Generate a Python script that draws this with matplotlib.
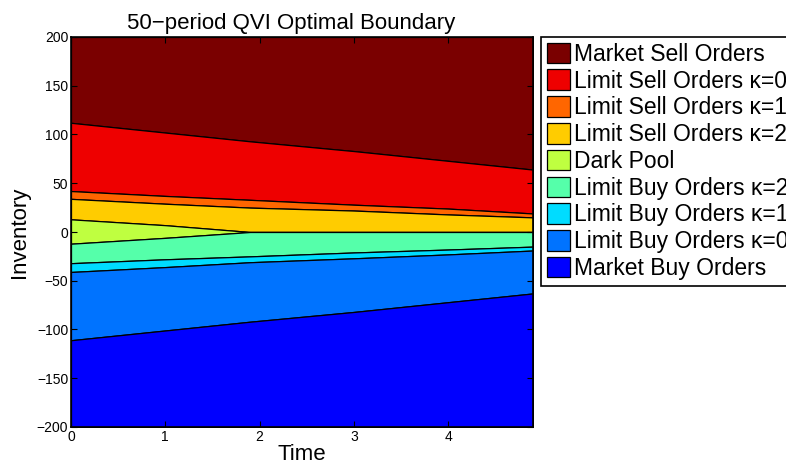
import matplotlib
matplotlib.use("Agg")
import matplotlib.pyplot as plt
import numpy as np

plt.rcParams['font.family'] = ['Liberation Sans', 'DejaVu Sans']

t = [0, 1, 1.9, 3, 4, 4.9]

# lower edge of each region (inventory), top to bottom
market_sell_lo = [112, 102, 93, 83, 73, 64]
sell_k0_lo = [42, 37, 33, 28, 24, 19]
sell_k1_lo = [34, 29, 25, 22, 18, 15]
sell_k2_lo = [13, 7, 0, 0, 0, 0]
dark_pool_lo = [-12, -6, 0, 0, 0, 0]
buy_k2_lo = [-32, -28, -25, -21, -18, -15]
buy_k1_lo = [-41, -36, -31, -27, -23, -19]
buy_k0_lo = [-111, -101, -92, -82, -72, -63]

labels = ['Market Sell Orders', 'Limit Sell Orders κ=0', 'Limit Sell Orders κ=1',
          'Limit Sell Orders κ=2', 'Dark Pool', 'Limit Buy Orders κ=2',
          'Limit Buy Orders κ=1', 'Limit Buy Orders κ=0', 'Market Buy Orders']
colors = ['#7a0000', '#ee0000', '#ff6600', '#ffcc00', '#bfff40',
          '#55ffaa', '#00dcff', '#0073ff', '#0000ff']

top = [200] * len(t)
bottom = [-200] * len(t)
edges = [top, market_sell_lo, sell_k0_lo, sell_k1_lo, sell_k2_lo,
         dark_pool_lo, buy_k2_lo, buy_k1_lo, buy_k0_lo, bottom]

fig = plt.figure(figsize=(7.86, 4.69), dpi=100)
ax = fig.add_axes([71/786, 1-427/469, (533-71)/786, (427-37)/469])

handles = []
for i in range(9):
    h = ax.fill_between(t, edges[i+1], edges[i], facecolor=colors[i],
                        edgecolor='k', linewidth=0.9, label=labels[i])
    handles.append(h)

ax.set_xlim(0, 4.9)
ax.set_ylim(-200, 200)
ax.set_xticks([0, 1, 2, 3, 4])
ax.set_yticks([-200, -150, -100, -50, 0, 50, 100, 150, 200])
ax.set_yticklabels(['\u2212200', '\u2212150', '\u2212100', '\u221250', '0',
                    '50', '100', '150', '200'])
ax.tick_params(direction='in', top=True, right=True, labelsize=10, length=4)
ax.tick_params(axis='x', pad=2)
ax.tick_params(axis='y', pad=2)
for s in ax.spines.values():
    s.set_linewidth(1.2)

ax.set_title('50\u2212period QVI Optimal Boundary', fontsize=16, pad=6, x=0.476)
ax.set_xlabel('Time', fontsize=16, labelpad=0)
ax.set_ylabel('Inventory', fontsize=16, labelpad=5)

leg = fig.legend(handles=handles, labels=labels, loc='upper left',
                 bbox_to_anchor=(541/786, 1-37/469), fontsize=16.5,
                 fancybox=False, framealpha=1, edgecolor='k',
                 labelspacing=0.16, handlelength=1.0, handleheight=1.0,
                 handletextpad=0.2, borderpad=0.25, borderaxespad=0)
leg.get_frame().set_linewidth(1.2)

fig.savefig('out.png', dpi=100)
